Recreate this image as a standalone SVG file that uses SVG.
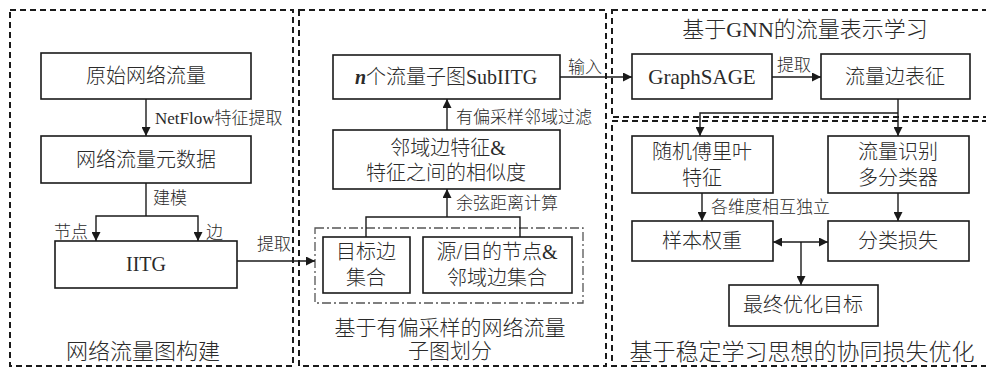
<svg xmlns="http://www.w3.org/2000/svg" width="986" height="367" viewBox="0 0 986 367">
<defs>
<marker id="ah" viewBox="0 0 10 10" refX="10" refY="5" markerWidth="9" markerHeight="9" markerUnits="userSpaceOnUse" orient="auto-start-reverse">
<path d="M0,0 L10,5 L0,10 Z" fill="#1a1a1a"/>
</marker>
<style>
.panel{fill:none;stroke:#1a1a1a;stroke-width:2;stroke-dasharray:6,4}
.box{fill:#fff;stroke:#1a1a1a;stroke-width:1.6}
.dd{fill:none;stroke:#555;stroke-width:1.3;stroke-dasharray:9,3,2,3}
.ln{fill:none;stroke:#1a1a1a;stroke-width:1.4}
.arr{fill:none;stroke:#1a1a1a;stroke-width:1.4;marker-end:url(#ah)}
text{font-family:"Liberation Serif","Noto Sans CJK SC",serif;fill:#2a2a2a;font-weight:300}
.t{font-size:20px;text-anchor:middle}
.lb{font-size:17px}
.ti{font-size:22px;text-anchor:middle}
</style>
</defs>
<rect width="986" height="367" fill="#fff"/>
<g id="panels">
<rect class="panel" x="10" y="10" width="283" height="356"/>
<rect class="panel" x="299" y="10" width="307" height="356"/>
<rect class="panel" x="612" y="10" width="380" height="107"/>
<rect class="panel" x="612" y="121" width="380" height="245"/>
<rect class="dd" x="315" y="228" width="268" height="75"/>
</g>
<g id="connectors">
<line class="arr" x1="146" y1="99" x2="146" y2="136"/>
<polyline class="ln" points="146,183 146,216"/>
<polyline class="arr" points="146,216 96,216 96,241"/>
<polyline class="arr" points="146,216 198,216 198,241"/>
<line class="arr" x1="237" y1="261" x2="315" y2="261"/>
<polyline class="ln" points="366,237 366,217 520,217 520,237"/>
<line class="arr" x1="447" y1="217" x2="447" y2="189"/>
<line class="arr" x1="447" y1="130" x2="447" y2="99"/>
<line class="arr" x1="560" y1="77" x2="632" y2="77"/>
<line class="arr" x1="772" y1="77" x2="821" y2="77"/>
<line class="arr" x1="898" y1="99" x2="898" y2="136"/>
<polyline class="arr" points="898,113 700,113 700,136"/>
<line class="arr" x1="702" y1="193" x2="702" y2="221"/>
<line class="arr" x1="898" y1="193" x2="898" y2="221"/>
<line class="arr" x1="773" y1="242" x2="828" y2="242" style="marker-start:url(#ah)"/>
<line class="arr" x1="801" y1="242" x2="801" y2="285"/>
</g>
<g id="labels">
<text class="lb" x="155" y="124">NetFlow特征提取</text>
<text class="lb" x="153" y="204">建模</text>
<text class="lb" x="88" y="238" text-anchor="end">节点</text>
<text class="lb" x="206" y="238">边</text>
<text class="lb" x="257" y="250">提取</text>
<text class="lb" x="568" y="73">输入</text>
<text class="lb" x="456" y="123">有偏采样邻域过滤</text>
<text class="lb" x="456" y="209">余弦距离计算</text>
<text class="lb" x="777" y="71">提取</text>
<text class="lb" x="711" y="213">各维度相互独立</text>
</g>
<g id="n_raw"><rect class="box" x="41" y="53" width="210" height="46"/><text class="t" x="146" y="83">原始网络流量</text></g>
<g id="n_meta"><rect class="box" x="41" y="136" width="210" height="47"/><text class="t" x="146" y="167">网络流量元数据</text></g>
<g id="n_iitg"><rect class="box" x="55" y="241" width="182" height="47"/><text class="t" x="146" y="271">IITG</text></g>
<g id="t_left"><text class="ti" x="143" y="359">网络流量图构建</text></g>
<g id="n_sub"><rect class="box" x="333" y="55" width="227" height="44"/><text class="t" x="446" y="84"><tspan font-style="italic" font-weight="bold">n</tspan>个流量子图SubIITG</text></g>
<g id="n_sim"><rect class="box" x="333" y="130" width="227" height="59"/><text class="t" x="448" y="155">邻域边特征&amp;</text><text class="t" x="446" y="180">特征之间的相似度</text></g>
<g id="n_target"><rect class="box" x="323" y="237" width="87" height="56"/><text class="t" x="366" y="259">目标边</text><text class="t" x="366" y="285">集合</text></g>
<g id="n_src"><rect class="box" x="423" y="237" width="149" height="56"/><text class="t" x="497" y="259">源/目的节点&amp;</text><text class="t" x="497" y="285">邻域边集合</text></g>
<g id="t_mid"><text class="ti" x="450" y="335" style="font-size:21px">基于有偏采样的网络流量</text><text class="ti" x="450" y="358" style="font-size:21px">子图划分</text></g>
<g id="t_rt"><text class="ti" x="805" y="37">基于GNN的流量表示学习</text></g>
<g id="n_sage"><rect class="box" x="632" y="54" width="140" height="45"/><text class="t" x="702" y="84" style="font-size:21px">GraphSAGE</text></g>
<g id="n_edge"><rect class="box" x="821" y="54" width="149" height="45"/><text class="t" x="895" y="84">流量边表征</text></g>
<g id="n_rff"><rect class="box" x="632" y="136" width="141" height="57"/><text class="t" x="702" y="159">随机傅里叶</text><text class="t" x="702" y="185">特征</text></g>
<g id="n_cls"><rect class="box" x="828" y="136" width="141" height="57"/><text class="t" x="898" y="159">流量识别</text><text class="t" x="898" y="185">多分类器</text></g>
<g id="n_w"><rect class="box" x="632" y="221" width="141" height="40"/><text class="t" x="702" y="248">样本权重</text></g>
<g id="n_loss"><rect class="box" x="828" y="221" width="141" height="40"/><text class="t" x="898" y="248">分类损失</text></g>
<g id="n_final"><rect class="box" x="729" y="285" width="149" height="41"/><text class="t" x="803" y="312">最终优化目标</text></g>
<g id="t_rb"><text class="ti" x="802" y="360" style="font-size:23px">基于稳定学习思想的协同损失优化</text></g>
</svg>
